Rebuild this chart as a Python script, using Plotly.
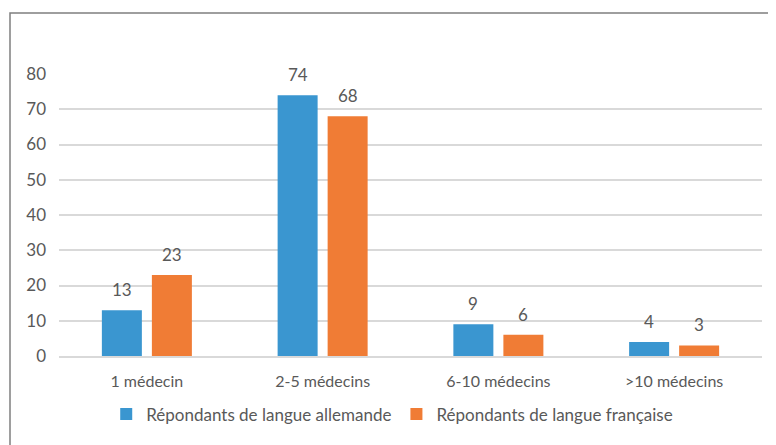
import plotly.graph_objects as go

categories = ["1 médecin", "2-5 médecins", "6-10 médecins", ">10 médecins"]
allemande = [13, 74, 9, 4]
francaise = [23, 68, 6, 3]
series_names = ["Répondants de langue allemande", "Répondants de langue française"]
y_ticks = [0, 10, 20, 30, 40, 50, 60, 70, 80]

font_family = "Lato, 'Open Sans', sans-serif"
txt = "#595959"
colors = ["#3a96d0", "#f07c35"]

fig = go.Figure()
for name, vals, col in zip(series_names, [allemande, francaise], colors):
    fig.add_trace(go.Bar(x=categories, y=vals, name=name,
                         marker=dict(color=col, line=dict(width=0))))

annotations = []
for vals, shift in zip([allemande, francaise], [-25, 25]):
    for c, v in zip(categories, vals):
        annotations.append(dict(x=c, y=v, xref="x", yref="y", text=str(v), showarrow=False,
                                xshift=shift, yshift=8, yanchor="bottom",
                                font=dict(size=17, color=txt, family=font_family)))

fig.update_layout(
    width=768, height=437,
    margin=dict(l=51, r=14, t=66, b=89),
    paper_bgcolor="white", plot_bgcolor="white",
    barmode="group", bargap=0.431, bargroupgap=0.2,
    font=dict(family=font_family, size=16, color=txt),
    showlegend=True,
    legend=dict(orientation="h", x=0.474, xanchor="center", y=-0.207, yanchor="middle",
                font=dict(size=17, color=txt), itemclick=False),
    annotations=annotations,
    shapes=[dict(type="rect", xref="paper", yref="paper",
                 x0=-0.0697, x1=1.1, y0=-0.5, y1=1.2163,
                 line=dict(color="#7f7f7f", width=1.5), fillcolor="rgba(0,0,0,0)", layer="above")],
)
fig.update_yaxes(range=[0, 80], tickvals=y_ticks, showgrid=True, gridcolor="#d9d9d9", gridwidth=1.5,
                 zeroline=False, showline=False, ticks="", ticklabelstandoff=12,
                 tickfont=dict(size=17, color=txt))
fig.update_xaxes(showline=True, linecolor="#d9d9d9", linewidth=1.5, ticks="",
                 ticklabelstandoff=10, tickfont=dict(size=16, color=txt))

fig.write_html("out.html")
